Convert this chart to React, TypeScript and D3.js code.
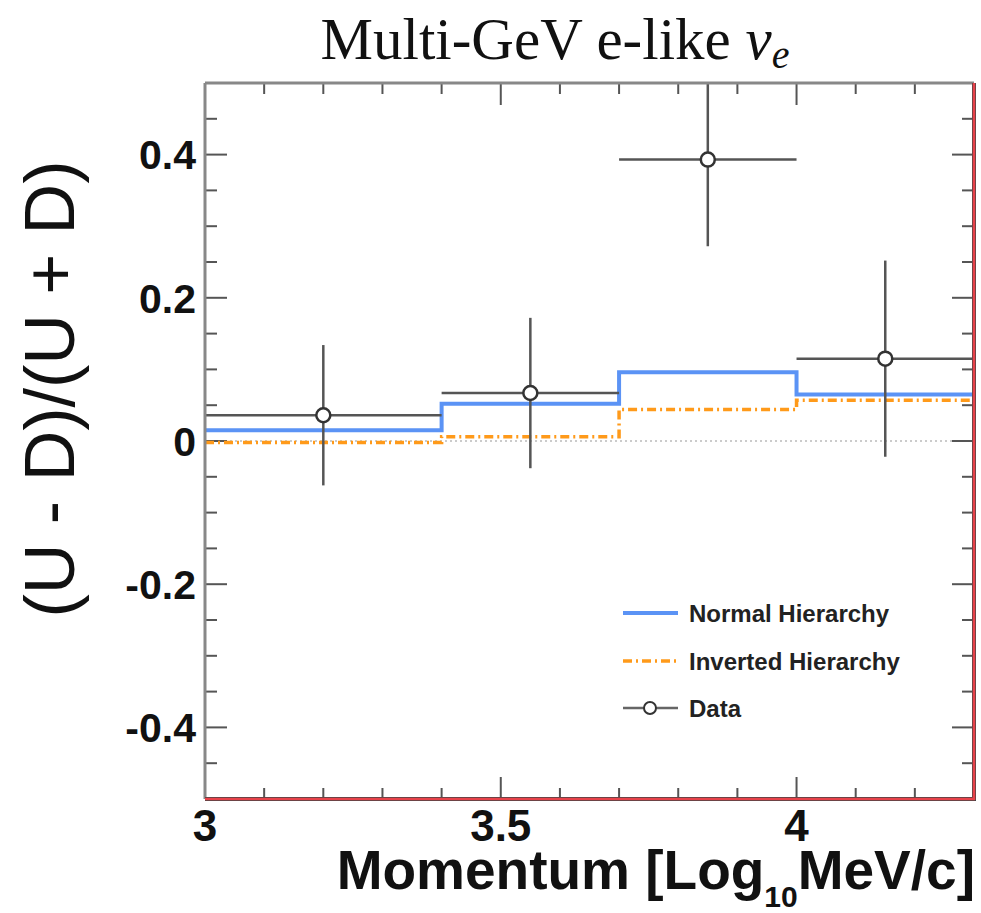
import React from "react";
import * as d3 from "d3";

const binEdges = [3.0, 3.4, 3.7, 4.0, 4.3];
const normalHierarchy = [0.015, 0.052, 0.096, 0.065];
const invertedHierarchy = [-0.002, 0.006, 0.044, 0.057];
const dataX = [3.2, 3.55, 3.85, 4.15];
const dataY = [0.036, 0.067, 0.393, 0.115];
const dataErr = [0.098, 0.105, 0.121, 0.137];
const yMajorTicks = [-0.4, -0.2, 0, 0.2, 0.4];
const yTickLabels = ["-0.4", "-0.2", "0", "0.2", "0.4"];
const xMajorTicks = [3, 3.5, 4];
const xTickLabels = ["3", "3.5", "4"];
const legendLabels = ["Normal Hierarchy", "Inverted Hierarchy", "Data"];

const W = 981;
const H = 913;
const L = 205, R = 974, T = 83, B = 799;

export default function App() {
  const x = d3.scaleLinear().domain([3, 4.3]).range([L, R]);
  const y = d3.scaleLinear().domain([-0.5, 0.5]).range([B, T]);

  const stepPts = (vals: number[]) => {
    const pts: [number, number][] = vals.map((v, i) => [binEdges[i], v]);
    pts.push([binEdges[binEdges.length - 1], vals[vals.length - 1]]);
    return pts;
  };
  const line = d3
    .line<[number, number]>()
    .x((d) => x(d[0]))
    .y((d) => y(d[1]))
    .curve(d3.curveStepAfter);

  const xMinor = d3.range(30, 44).map((v) => v / 10);
  const yMinor = d3.range(-10, 11).map((v) => v / 20);
  const tickCol = "#555";
  const font = "'Liberation Sans', Arial, sans-serif";

  return (
    <svg
      width={W}
      height={H}
      style={{ position: "absolute", left: 0, top: 0, background: "#fff" }}
    >
      <defs>
        <clipPath id="plotclip">
          <rect x={L} y={T} width={R - L} height={B - T} />
        </clipPath>
      </defs>
      {/* Title */}
      <text
        x={555}
        y={59}
        textAnchor="middle"
        fontFamily="'Liberation Serif', 'Times New Roman', serif"
        fontSize={59}
        fill="#111"
      >
        Multi-GeV e-like{" "}
        <tspan fontStyle="italic">ν</tspan>
        <tspan fontStyle="italic" fontSize={40} dy={9}>
          e
        </tspan>
      </text>

      {/* zero line */}
      <line
        x1={L}
        x2={R}
        y1={y(0)}
        y2={y(0)}
        stroke="#bbb"
        strokeWidth={1.5}
        strokeDasharray="2,3"
      />

      {/* ticks */}
      {xMinor.map((v, i) => {
        const major = xMajorTicks.some((m) => Math.abs(m - v) < 1e-6);
        const len = major ? 22 : 11;
        return (
          <g key={"xt" + i}>
            <line x1={x(v)} x2={x(v)} y1={B} y2={B - len} stroke={tickCol} strokeWidth={2} />
            <line x1={x(v)} x2={x(v)} y1={T} y2={T + len} stroke={tickCol} strokeWidth={2} />
          </g>
        );
      })}
      {yMinor.map((v, i) => {
        const major = yMajorTicks.some((m) => Math.abs(m - v) < 1e-6);
        const len = major ? 22 : 12;
        return (
          <g key={"yt" + i}>
            <line x1={L} x2={L + len} y1={y(v)} y2={y(v)} stroke={tickCol} strokeWidth={2} />
            <line x1={R} x2={R - len} y1={y(v)} y2={y(v)} stroke={tickCol} strokeWidth={2} />
          </g>
        );
      })}

      <g clipPath="url(#plotclip)">
        {/* Inverted hierarchy */}
        <path
          d={line(stepPts(invertedHierarchy)) || ""}
          fill="none"
          stroke="#ff9a1a"
          strokeWidth={3.5}
          strokeDasharray="9,4,2,4"
        />
        {/* Normal hierarchy */}
        <path
          d={line(stepPts(normalHierarchy)) || ""}
          fill="none"
          stroke="#5b93f5"
          strokeWidth={4}
        />
        {/* Data */}
        {dataX.map((dx, i) => (
          <g key={"d" + i}>
            <line
              x1={x(binEdges[i])}
              x2={x(binEdges[i + 1])}
              y1={y(dataY[i])}
              y2={y(dataY[i])}
              stroke="#555"
              strokeWidth={2.5}
            />
            <line
              x1={x(dx)}
              x2={x(dx)}
              y1={y(dataY[i] - dataErr[i])}
              y2={y(dataY[i] + dataErr[i])}
              stroke="#555"
              strokeWidth={2.5}
            />
            <circle cx={x(dx)} cy={y(dataY[i])} r={7} fill="#fff" stroke="#333" strokeWidth={2.5} />
          </g>
        ))}
      </g>

      {/* frame */}
      <line x1={L} x2={L} y1={T} y2={B} stroke="#888" strokeWidth={3} />
      <line x1={L} x2={R} y1={T} y2={T} stroke="#888" strokeWidth={3} />
      <line x1={L} x2={R + 2} y1={B} y2={B} stroke="#444" strokeWidth={4} />
      <line x1={R} x2={R} y1={T} y2={B + 2} stroke="#444" strokeWidth={4} />
      <line x1={L} x2={R + 1} y1={B} y2={B} stroke="#e8424a" strokeWidth={2.6} />
      <line x1={R} x2={R} y1={T} y2={B + 1} stroke="#e8424a" strokeWidth={2.6} />

      {/* y tick labels */}
      {yMajorTicks.map((v, i) => (
        <text
          key={"yl" + i}
          x={196}
          y={y(v)}
          dy="0.36em"
          textAnchor="end"
          fontFamily={font}
          fontWeight="bold"
          fontSize={41}
          fill="#111"
        >
          {yTickLabels[i]}
        </text>
      ))}
      {/* x tick labels */}
      {xMajorTicks.map((v, i) => (
        <text
          key={"xl" + i}
          x={x(v)}
          y={841}
          textAnchor="middle"
          fontFamily={font}
          fontWeight="bold"
          fontSize={44}
          fill="#111"
        >
          {xTickLabels[i]}
        </text>
      ))}

      {/* x axis title */}
      <text
        x={975}
        y={889}
        textAnchor="end"
        fontFamily={font}
        fontWeight="bold"
        fontSize={55}
        fill="#111"
      >
        Momentum [Log
        <tspan fontSize={30} dy={18}>
          10
        </tspan>
        <tspan dy={-18}>MeV/c]</tspan>
      </text>

      {/* y axis title */}
      <text
        transform={`translate(74, 389) rotate(-90)`}
        textAnchor="middle"
        fontFamily={font}
        fontSize={70}
        fill="#111"
      >
        (U - D)/(U + D)
      </text>

      {/* legend */}
      <g fontFamily={font} fontWeight="bold" fontSize={24} fill="#222">
        <line x1={623} x2={678} y1={613} y2={613} stroke="#5b93f5" strokeWidth={4} />
        <text x={689} y={613} dy="0.36em">
          {legendLabels[0]}
        </text>
        <line
          x1={623}
          x2={678}
          y1={661}
          y2={661}
          stroke="#ff9a1a"
          strokeWidth={3.5}
          strokeDasharray="9,4,2,4"
        />
        <text x={689} y={661} dy="0.36em">
          {legendLabels[1]}
        </text>
        <line x1={623} x2={678} y1={708} y2={708} stroke="#666" strokeWidth={2.5} />
        <circle cx={650} cy={708} r={6} fill="#fff" stroke="#333" strokeWidth={2} />
        <text x={689} y={708} dy="0.36em">
          {legendLabels[2]}
        </text>
      </g>
    </svg>
  );
}
